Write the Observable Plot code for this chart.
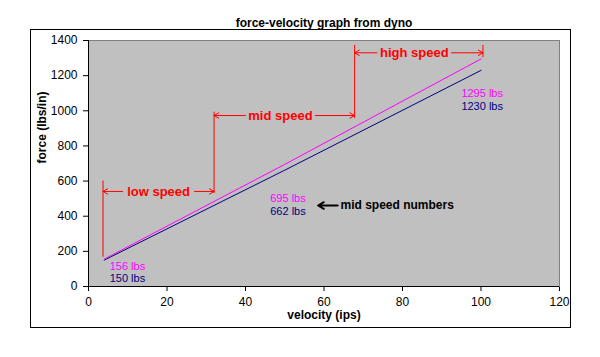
<!DOCTYPE html>
<html>
<head>
<meta charset="utf-8">
<script src="https://cdn.jsdelivr.net/npm/d3@7"></script>
<script src="https://cdn.jsdelivr.net/npm/@observablehq/plot@0.6"></script>
<style>
  html, body { margin: 0; padding: 0; background: #fff; }
  svg { display: block; }
</style>
</head>
<body>
<div id="chart"></div>
<script>
// ---- data ----
const velocity = [4, 50, 100];
const forceA = [156, 695, 1295];   // magenta series
const forceB = [150, 662, 1230];   // navy series
const labelA = ["156 lbs", "695 lbs", "1295 lbs"];
const labelB = ["150 lbs", "662 lbs", "1230 lbs"];
const xTicks = [0, 20, 40, 60, 80, 100, 120];
const yTicks = [0, 200, 400, 600, 800, 1000, 1200, 1400];

// label anchor positions (data units)
const labelX = [5.4, 46.3, 95.0];
const labelAY = [116, 503, 1097];
const labelBY = [47, 427, 1024];

// speed range annotations
const rangeNames = ["low speed", "mid speed", "high speed"];
const rangeStart = [3.7, 32.0, 67.8];
const rangeEnd = [32.0, 67.8, 100.5];
const rangeY = [541, 973, 1330];
const rangeTextL = [8.7, 40.0, 73.5];   // where left arrow starts (text left edge)
const rangeTextR = [27.0, 57.8, 92.5];  // where right arrow starts (text right edge)
const vertX = [3.7, 32.0, 67.8, 100.5];
const vertTop = [600, 992, 1372, 1372];
const vertBottom = [167, 529, 956, 1303];

const seriesA = velocity.map((v, i) => ({x: v, y: forceA[i]}));
const seriesB = velocity.map((v, i) => ({x: v, y: forceB[i]}));
const labelsA = labelX.map((x, i) => ({x, y: labelAY[i], t: labelA[i]}));
const labelsB = labelX.map((x, i) => ({x, y: labelBY[i], t: labelB[i]}));
const ranges = rangeNames.map((n, i) => ({
  name: n, x1: rangeStart[i], x2: rangeEnd[i], y: rangeY[i],
  tl: rangeTextL[i], tr: rangeTextR[i], cx: (rangeTextL[i] + rangeTextR[i]) / 2
}));
const verts = vertX.map((x, i) => ({x, y1: vertBottom[i], y2: vertTop[i]}));

const RED = "#ff0000", MAG = "#ff00ff", NAVY = "#000080";

const chart = Plot.plot({
  width: 600,
  height: 357,
  marginLeft: 88,
  marginRight: 41,
  marginTop: 40,
  marginBottom: 71,
  style: {fontFamily: "'Liberation Sans', Arial, sans-serif", fontSize: "12px", color: "#000", background: "#fff"},
  x: {domain: [0, 120], ticks: xTicks, tickSize: 5, tickPadding: 6, tickFormat: d => String(d), label: null},
  y: {domain: [0, 1400], ticks: yTicks, tickSize: 5, tickPadding: 6, tickFormat: d => String(d), label: null},
  marks: [
    Plot.frame({fill: "#c0c0c0", stroke: "#808080"}),
    Plot.ruleX([0], {stroke: "#000"}),
    Plot.ruleY([0], {stroke: "#000"}),
    // vertical range markers
    Plot.ruleX(verts, {x: "x", y1: "y1", y2: "y2", stroke: RED, strokeWidth: 1}),
    // range arrows
    Plot.arrow(ranges, {x1: "tl", x2: "x1", y1: "y", y2: "y", stroke: RED, strokeWidth: 1, headLength: 8, bend: 0}),
    Plot.arrow(ranges, {x1: "tr", x2: "x2", y1: "y", y2: "y", stroke: RED, strokeWidth: 1, headLength: 8, bend: 0}),
    Plot.text(ranges, {x: "cx", y: "y", text: "name", fill: RED, fontWeight: "bold", fontSize: 13, textAnchor: "middle"}),
    // series lines
    Plot.line(seriesB, {x: "x", y: "y", stroke: NAVY, strokeWidth: 1}),
    Plot.line(seriesA, {x: "x", y: "y", stroke: MAG, strokeWidth: 1}),
    // value labels
    Plot.text(labelsA, {x: "x", y: "y", text: "t", fill: MAG, textAnchor: "start", fontSize: 11}),
    Plot.text(labelsB, {x: "x", y: "y", text: "t", fill: NAVY, textAnchor: "start", fontSize: 11}),
    // mid speed numbers callout
    Plot.arrow([{x1: 63.5, x2: 58.5, y: 461}], {x1: "x1", x2: "x2", y1: "y", y2: "y", stroke: "#000", strokeWidth: 2, headLength: 8, bend: 0}),
    Plot.text(["mid speed numbers"], {x: 64.2, y: 465, text: d => d, fill: "#000", fontWeight: "bold", fontSize: 12, textAnchor: "start"}),
    // axis titles and chart title
    Plot.text(["velocity (ips)"], {frameAnchor: "bottom", dy: 32, text: d => d, fontWeight: "bold", fontSize: 12}),
    Plot.text(["force (lbs/in)"], {frameAnchor: "left", dx: -46, rotate: -90, text: d => d, fontWeight: "bold", fontSize: 12}),
    Plot.text(["force-velocity graph from dyno"], {frameAnchor: "top", dy: -22, text: d => d, fontWeight: "bold", fontSize: 12})
  ]
});

// outer chart-area border
d3.select(chart).insert("rect", ":first-child")
  .attr("x", 30.5).attr("y", 29.5).attr("width", 540).attr("height", 298)
  .attr("fill", "#fff").attr("stroke", "#000").attr("stroke-width", 1);

document.getElementById("chart").appendChild(chart);
</script>
</body>
</html>
